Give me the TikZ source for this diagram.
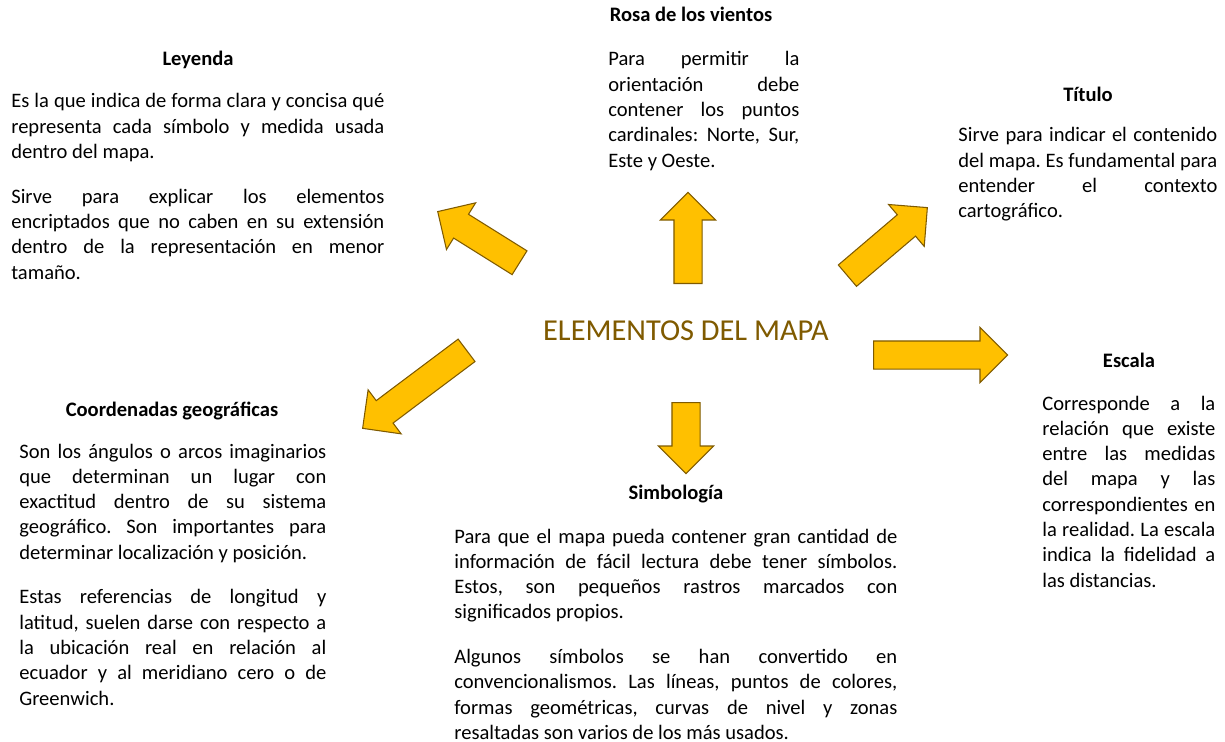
\documentclass[tikz,border=0pt]{standalone}
\usepackage{fontspec}
\setmainfont{Carlito}
\usepackage{xcolor}
\usetikzlibrary{shapes.arrows, positioning}
\definecolor{oro}{HTML}{FFC000}
\definecolor{marron}{HTML}{7F5A00}
\tikzstyle{titulo} = [anchor=base, inner sep=0pt, font=\fontsize{11.7}{14.4}\selectfont\bfseries]
\tikzstyle{texto} = [anchor=base west, inner sep=0pt, align=justify, font=\fontsize{11.7}{14.4}\selectfont, execute at begin node={\setlength{\parskip}{11pt}\frenchspacing\hyphenpenalty=10000\emergencystretch=2em}]
\tikzstyle{flecha} = [single arrow, single arrow head extend=0.27cm, inner xsep=0pt, inner ysep=0.27cm, anchor=tail, fill=oro, draw=marron, line width=0.6pt]

\begin{document}
\begin{tikzpicture}
    \useasboundingbox (0,0) rectangle (24.5,-14.84);

    % Centro
    \node[anchor=base, font=\fontsize{17.3}{21}\selectfont, text=marron] (mapa) at (13.72,-6.80) {ELEMENTOS DEL MAPA};

    % Flechas
    \node[flecha, minimum height=1.93cm, rotate=148] (fleLeyenda) at (10.40,-5.26) {};
    \node[flecha, minimum height=1.82cm, rotate=90] (fleRosa) at (13.76,-5.68) {};
    \node[flecha, minimum height=2.10cm, rotate=40.4] (fleTitulo) at (16.94,-5.52) {};
    \node[flecha, minimum height=2.68cm, rotate=0] (fleEscala) at (17.46,-7.10) {};
    \node[flecha, minimum height=1.42cm, rotate=-90] (fleSimb) at (13.72,-8.04) {};
    \node[flecha, minimum height=2.60cm, rotate=216.9] (fleCoord) at (9.34,-7.00) {};

    % Leyenda
    \node[titulo] (leyenda) at (3.96,-1.32) {Leyenda};
    \node[texto, text width=7.46cm] (leyendatxt) at (0.22,-2.16) {Es la que indica de forma clara y concisa qué\linebreak representa cada símbolo y medida usada dentro del mapa.\par Sirve para explicar los elementos\linebreak encriptados que no caben en su extensión\linebreak dentro de la representación en menor\linebreak tamaño.};

    % Rosa de los vientos
    \node[titulo] (rosa) at (13.82,-0.44) {Rosa de los vientos};
    \node[texto, text width=3.82cm] (rosatxt) at (12.16,-1.32) {Para permitir la orientación debe contener los puntos cardinales: Norte, Sur, Este y Oeste.};

    % Titulo
    \node[titulo] (titulo) at (21.76,-2.02) {Título};
    \node[texto, text width=5.18cm] (titulotxt) at (19.16,-2.84) {Sirve para indicar el contenido\linebreak del mapa. Es fundamental para\linebreak entender el contexto cartográfico.};

    % Escala
    \node[titulo] (escala) at (22.58,-7.34) {Escala};
    \node[texto, text width=3.46cm] (escalatxt) at (20.84,-8.20) {Corresponde a la relación que existe entre las medidas del mapa y las correspondientes en la realidad. La escala indica la fidelidad a las distancias.};

    % Coordenadas
    \node[titulo] (coord) at (3.44,-8.32) {Coordenadas geográficas};
    \node[texto, text width=6.14cm] (coordtxt) at (0.38,-9.16) {Son los ángulos o arcos imaginarios que determinan un lugar con exactitud dentro de su sistema geográfico. Son importantes para determinar localización y posición.\par Estas referencias de longitud y\linebreak latitud, suelen darse con respecto a\linebreak la ubicación real en relación al\linebreak ecuador y al meridiano cero o de Greenwich.};

    % Simbologia
    \node[titulo] (simbologia) at (13.52,-9.98) {Simbología};
    \node[texto, text width=8.86cm] (simbtxt) at (9.08,-10.86) {Para que el mapa pueda contener gran cantidad de\linebreak información de fácil lectura debe tener símbolos.\linebreak Estos, son pequeños rastros marcados con\linebreak significados propios.\par Algunos símbolos se han convertido en\linebreak convencionalismos. Las líneas, puntos de colores,\linebreak formas geométricas, curvas de nivel y zonas\linebreak resaltadas son varios de los más usados.};
\end{tikzpicture}
\end{document}
